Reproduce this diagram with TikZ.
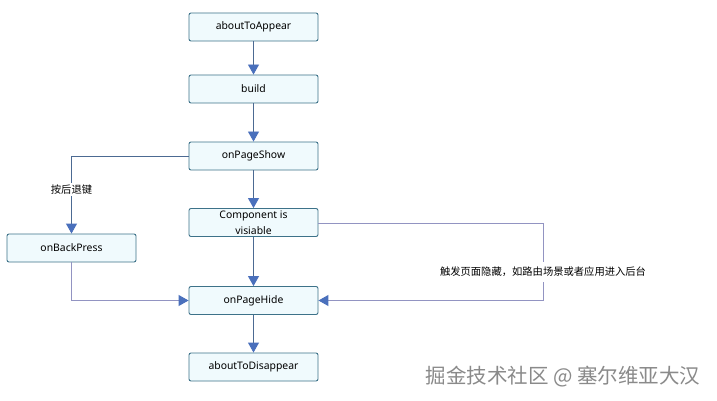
\documentclass[tikz,border=0pt]{standalone}
\usepackage{fontspec}
\setmainfont{Noto Sans}
\newfontfamily\cjk{Noto Sans CJK SC}
\usetikzlibrary{arrows.meta}
\definecolor{boxfill}{HTML}{F0FAFD}
\definecolor{boxdraw}{HTML}{3D7289}
\definecolor{vline}{HTML}{4C6A92}
\definecolor{hline}{HTML}{9294C2}
\definecolor{tipc}{HTML}{4A70BC}
\definecolor{wm}{HTML}{8A8A8A}
\begin{document}
\begin{tikzpicture}[x=1pt,y=-1pt,
  stepbox/.style={draw=boxdraw,fill=boxfill,rounded corners=2pt,line width=0.9pt,
    minimum width=129pt,minimum height=28pt,inner sep=0pt,font=\fontsize{10.4}{16}\selectfont,align=center},
  vflow/.style={draw=vline,line width=0.9pt,-{Triangle[length=10pt,width=11pt,fill=tipc,color=tipc]}},
  hflow/.style={draw=hline,line width=1pt,-{Triangle[length=10pt,width=11pt,fill=tipc,color=tipc]}},
  lbl/.style={fill=white,inner sep=2pt,font=\cjk\fontsize{10.3}{12}\selectfont}]
\useasboundingbox (0,0) rectangle (717,401);
\fill[white] (0,0) rectangle (717,401);
\node[stepbox] (appear) at (253.5,27) {aboutToAppear};
\node[stepbox] (build) at (253.5,89) {build};
\node[stepbox] (show) at (253.5,156) {onPageShow};
\node[stepbox] (comp) at (253.5,222.5) {Component is\\visiable};
\node[stepbox] (back) at (71.5,248) {onBackPress};
\node[stepbox] (hide) at (253.5,300.5) {onPageHide};
\node[stepbox] (disappear) at (253.5,367) {aboutToDisappear};
\coordinate (lc) at (71.5,156);
\coordinate (lb) at (71.5,300.5);
\coordinate (rt) at (543,223);
\coordinate (rb) at (543,300.5);
\draw[vflow] (appear) -- (build);
\draw[vflow] (build) -- (show);
\draw[vflow] (show) -- (comp);
\draw[vflow] (comp) -- (hide);
\draw[vflow] (hide) -- (disappear);
\draw[draw=vline,line width=0.9pt] (show.west) -- (lc);
\draw[vflow] (lc) -- node[lbl,pos=0.43]{按后退键} (back.north);
\draw[hflow] (back.south) -- (lb) -- (hide.west);
\draw[draw=hline,line width=1pt] (comp.east |- rt) -- (rt);
\draw[hflow] (rt) -- node[lbl,pos=0.63,inner ysep=5pt]{触发页面隐藏，如路由场景或者应用进入后台} (rb) -- (hide.east);
\node[font=\cjk\fontsize{20.5}{22}\selectfont,text=wm,anchor=east] (wmk) at (704,377) {掘金技术社区 @ 塞尔维亚大汉};
\end{tikzpicture}
\end{document}
